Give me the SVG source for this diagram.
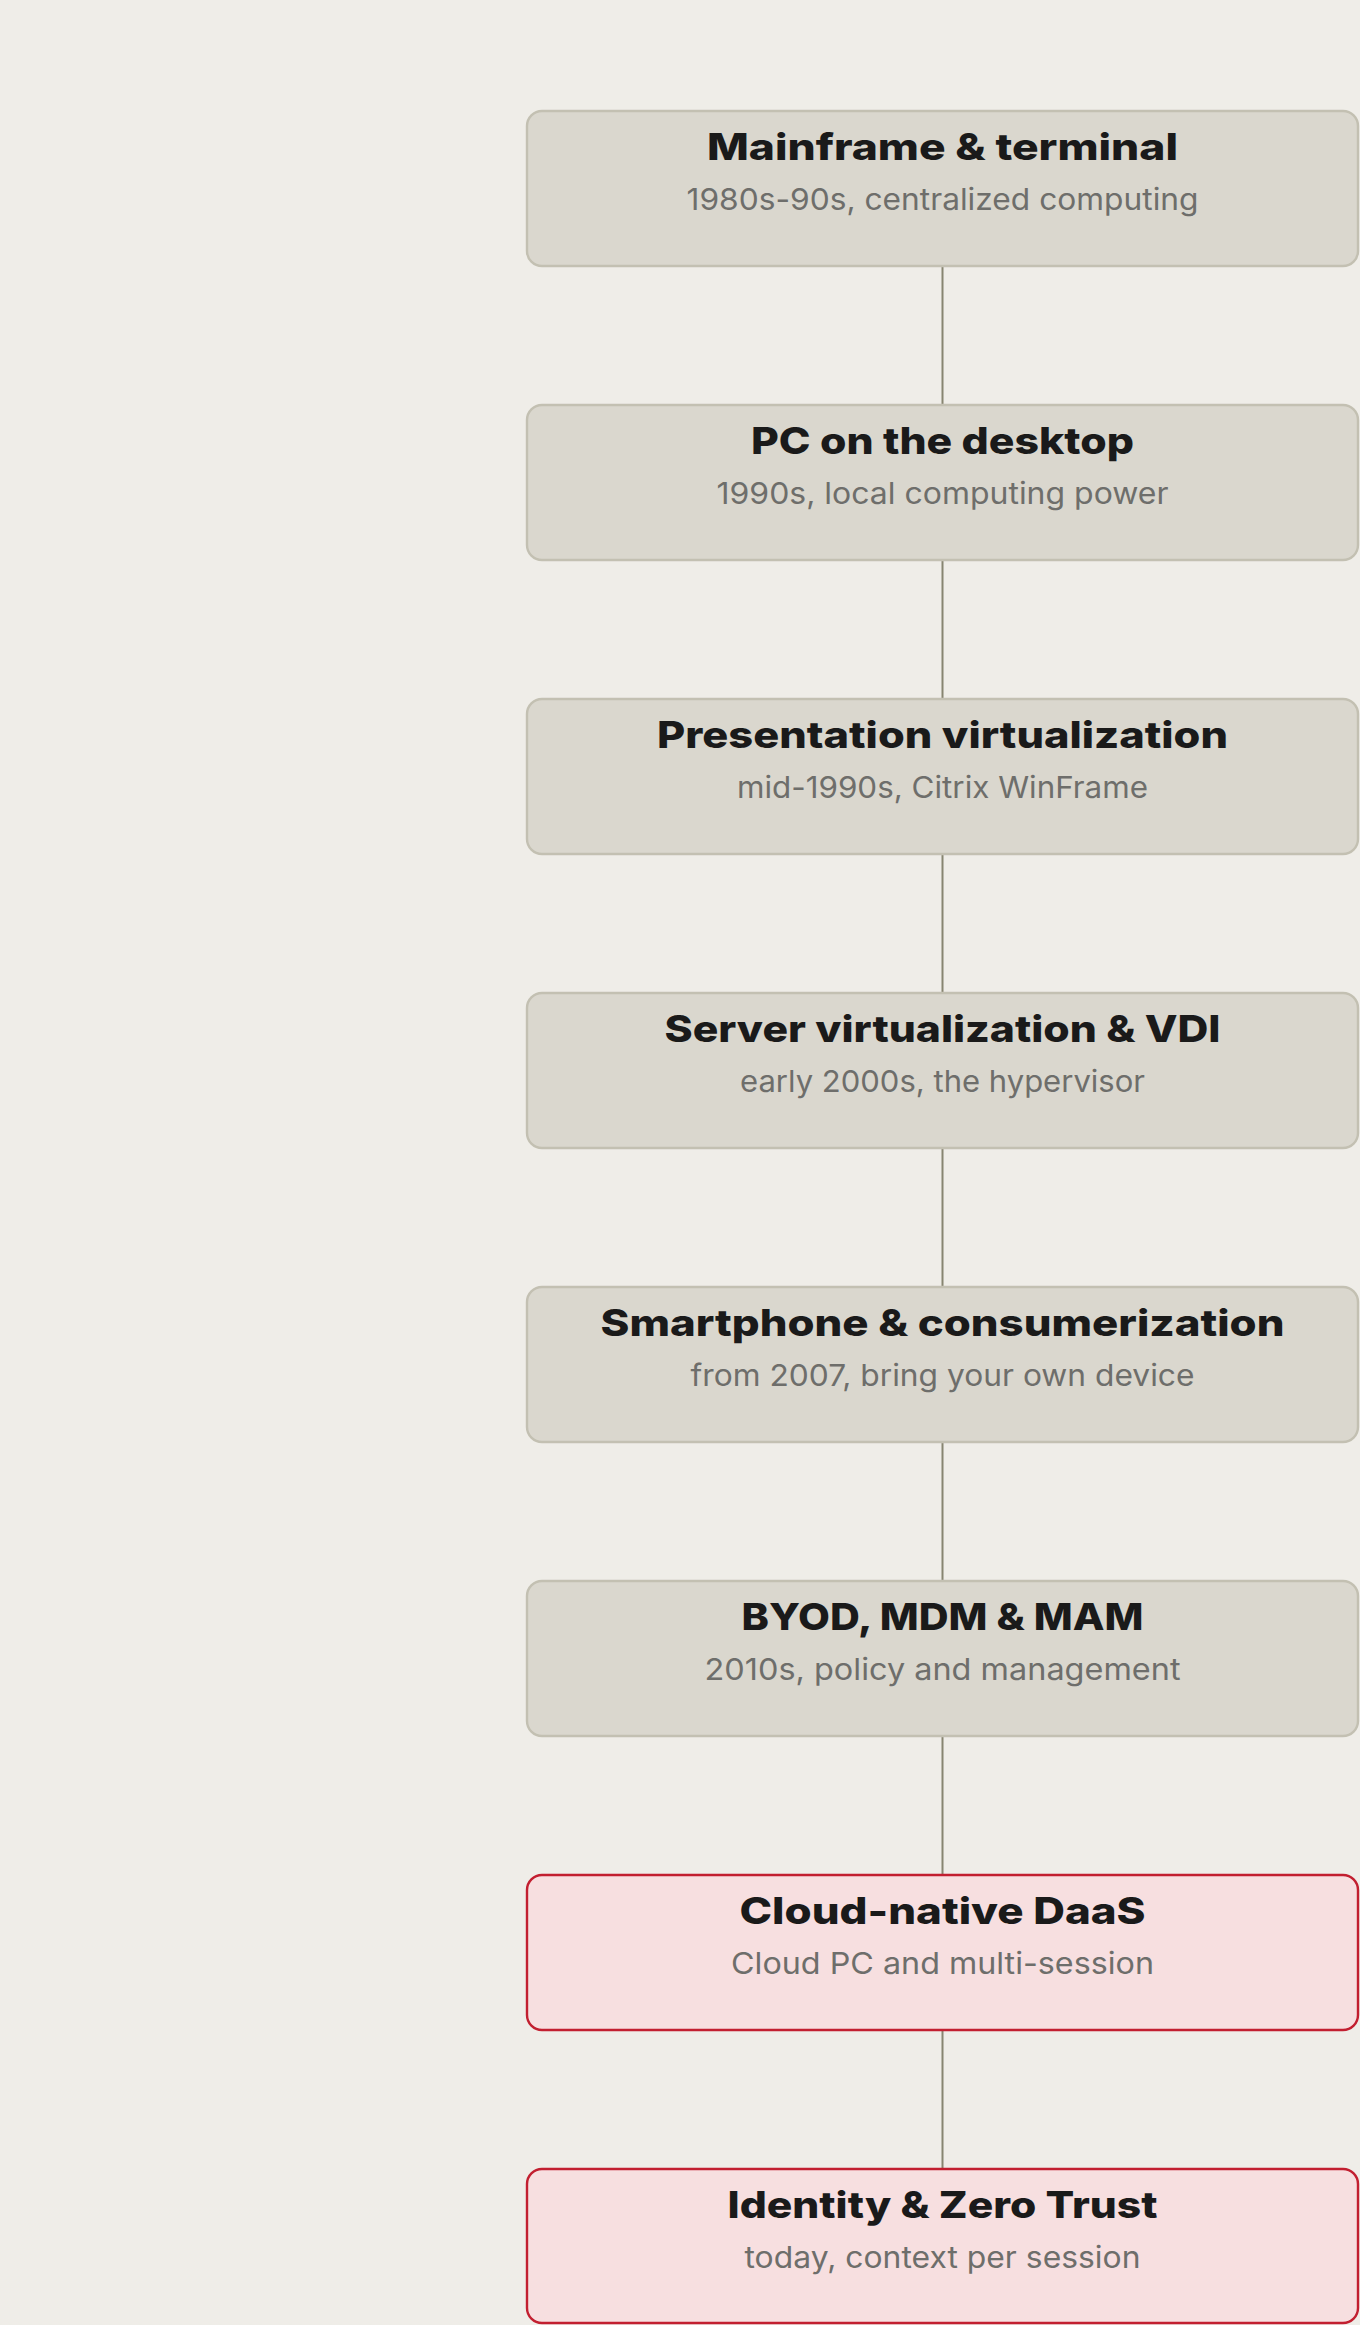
<svg xmlns="http://www.w3.org/2000/svg" width="1360" height="2325" viewBox="0 0 1360 2325">
<style>
.bg{fill:#EFEDE8}
.box{fill:#DAD7CE;stroke:#C3C0B2;stroke-width:2.4}
.hot{fill:#F7DFE0;stroke:#C21F30;stroke-width:2.4}
.t{font-family:Inter,"Liberation Sans",sans-serif;font-weight:800;font-size:37px;fill:#1A1A1A;text-anchor:middle}
.s{font-family:Inter,"Liberation Sans",sans-serif;font-weight:400;font-size:30px;fill:#6E6E6B;text-anchor:middle}
.edge{stroke:#878571;stroke-width:2;fill:none}
.tip{fill:#85837A}
</style>
<rect class="bg" x="0" y="0" width="1360" height="2325"/>
<g id="connectors">
<line class="edge" x1="942.5" y1="267" x2="942.5" y2="404"/>
<polygon class="tip" points="937,412 940,408 943,408 941,412"/>
<line class="edge" x1="942.5" y1="561" x2="942.5" y2="698"/>
<polygon class="tip" points="937,706 940,702 943,702 941,706"/>
<line class="edge" x1="942.5" y1="855" x2="942.5" y2="992"/>
<polygon class="tip" points="937,1000 940,996 943,996 941,1000"/>
<line class="edge" x1="942.5" y1="1149" x2="942.5" y2="1286"/>
<polygon class="tip" points="937,1294 940,1290 943,1290 941,1294"/>
<line class="edge" x1="942.5" y1="1443" x2="942.5" y2="1580"/>
<polygon class="tip" points="937,1588 940,1584 943,1584 941,1588"/>
<line class="edge" x1="942.5" y1="1737" x2="942.5" y2="1874"/>
<polygon class="tip" points="937,1882 940,1878 943,1878 941,1882"/>
<line class="edge" x1="942.5" y1="2031" x2="942.5" y2="2168"/>
<polygon class="tip" points="937,2176 940,2172 943,2172 941,2176"/>
</g>
<g id="n1">
<rect class="box" x="527" y="111" width="831" height="155" rx="15"/>
<text class="t" x="942.5" y="160" textLength="471" lengthAdjust="spacingAndGlyphs">Mainframe &amp; terminal</text>
<text class="s" x="942.5" y="210" textLength="512" lengthAdjust="spacingAndGlyphs">1980s-90s, centralized computing</text>
</g>
<g id="n2">
<rect class="box" x="527" y="405" width="831" height="155" rx="15"/>
<text class="t" x="942.5" y="454" textLength="383" lengthAdjust="spacingAndGlyphs">PC on the desktop</text>
<text class="s" x="942.5" y="504" textLength="452" lengthAdjust="spacingAndGlyphs">1990s, local computing power</text>
</g>
<g id="n3">
<rect class="box" x="527" y="699" width="831" height="155" rx="15"/>
<text class="t" x="942.5" y="748" textLength="571" lengthAdjust="spacingAndGlyphs">Presentation virtualization</text>
<text class="s" x="942.5" y="798" textLength="411" lengthAdjust="spacingAndGlyphs">mid-1990s, Citrix WinFrame</text>
</g>
<g id="n4">
<rect class="box" x="527" y="993" width="831" height="155" rx="15"/>
<text class="t" x="942.5" y="1042" textLength="556" lengthAdjust="spacingAndGlyphs">Server virtualization &amp; VDI</text>
<text class="s" x="942.5" y="1092" textLength="405" lengthAdjust="spacingAndGlyphs">early 2000s, the hypervisor</text>
</g>
<g id="n5">
<rect class="box" x="527" y="1287" width="831" height="155" rx="15"/>
<text class="t" x="942.5" y="1336" textLength="684" lengthAdjust="spacingAndGlyphs">Smartphone &amp; consumerization</text>
<text class="s" x="942.5" y="1386" textLength="504" lengthAdjust="spacingAndGlyphs">from 2007, bring your own device</text>
</g>
<g id="n6">
<rect class="box" x="527" y="1581" width="831" height="155" rx="15"/>
<text class="t" x="942.5" y="1630" textLength="402" lengthAdjust="spacingAndGlyphs">BYOD, MDM &amp; MAM</text>
<text class="s" x="942.5" y="1680" textLength="476" lengthAdjust="spacingAndGlyphs">2010s, policy and management</text>
</g>
<g id="n7">
<rect class="hot" x="527" y="1875" width="831" height="155" rx="15"/>
<text class="t" x="942.5" y="1924" textLength="406" lengthAdjust="spacingAndGlyphs">Cloud-native DaaS</text>
<text class="s" x="942.5" y="1974" textLength="423" lengthAdjust="spacingAndGlyphs">Cloud PC and multi-session</text>
</g>
<g id="n8">
<rect class="hot" x="527" y="2169" width="831" height="154" rx="15"/>
<text class="t" x="942.5" y="2218" textLength="430" lengthAdjust="spacingAndGlyphs">Identity &amp; Zero Trust</text>
<text class="s" x="942.5" y="2268" textLength="396" lengthAdjust="spacingAndGlyphs">today, context per session</text>
</g>
</svg>
